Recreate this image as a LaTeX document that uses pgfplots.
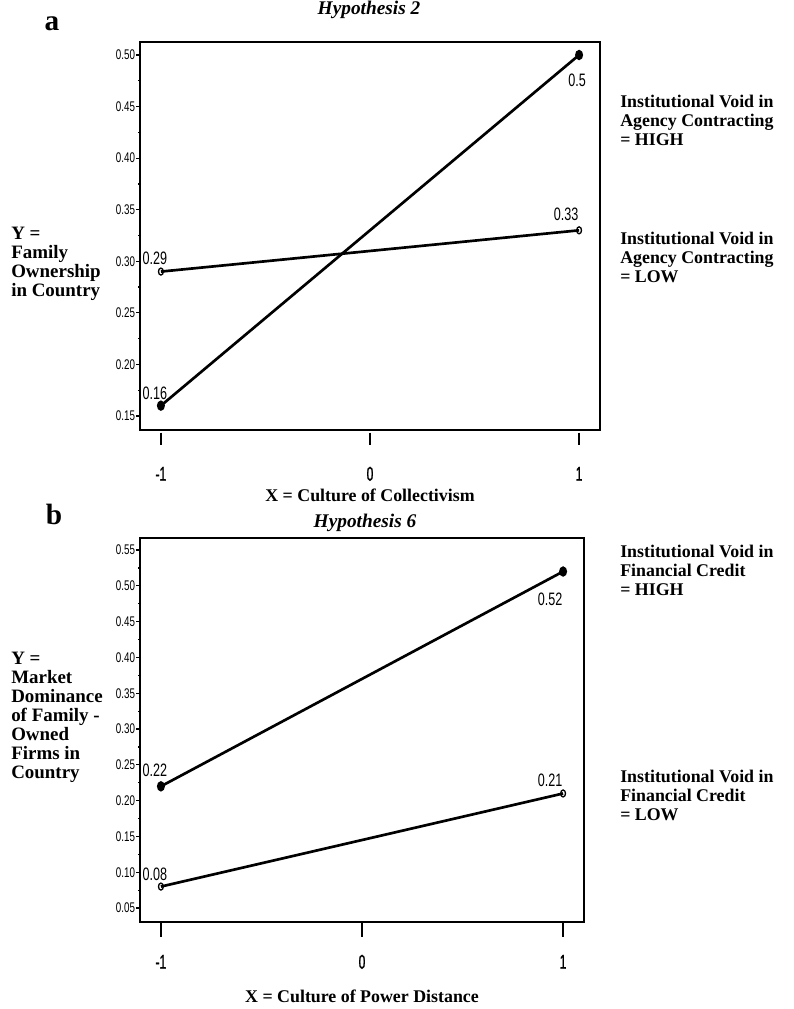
\documentclass[border=0pt]{standalone}
\usepackage{fontspec}
\setmainfont{Liberation Serif}
\newfontfamily\nsf[FakeStretch=0.7]{Liberation Sans}
\newfontfamily\xsf[FakeStretch=0.6,FakeBold=1.2]{Liberation Sans}
\usepackage{pgfplots}
\pgfplotsset{compat=1.18}

\pgfplotsset{
 mystyle/.style={
  scale only axis,
  axis line style={line width=1.1pt},
  tick align=outside,
  xtick pos=bottom, ytick pos=left,
  xtick={-1,0,1},
  xticklabels={-1,0,1},
  minor y tick num=1,
  tick style={line width=0.9pt,black},
  major tick length=3pt,
  minor tick length=1.5pt,
  xtick style={draw=none},
  yticklabel style={font=\nsf\fontsize{10.5}{10.5}\selectfont, inner sep=0.5pt, /pgf/number format/.cd, fixed, fixed zerofill, precision=2},
  xticklabel style={font=\xsf\fontsize{15}{15}\selectfont, text height=10.5pt, text depth=0pt},
  /pgf/number format/assume math mode=true,
  clip=false,
 },
 high/.style={black, line width=2pt, mark=*, mark size=2.8pt, mark options={xscale=0.7, fill=black}},
 low/.style={black, line width=2pt, mark=o, mark size=2.6pt, mark options={xscale=0.7, line width=1pt}},
}
\tikzset{dl/.style={font=\nsf\fontsize{13.5}{13.5}\selectfont, inner sep=0pt}}
\newcommand{\lbl}{\bfseries\fontsize{13.4}{14.25}\selectfont}
\newcommand{\lbll}{\bfseries\fontsize{14.2}{15}\selectfont}

\begin{document}
\begin{tikzpicture}
\useasboundingbox (0,0) rectangle (594.75pt,-756.75pt);

\begin{axis}[mystyle, at={(105pt,-322.5pt)}, anchor=south west,
  width=345pt, height=291pt,
  xmin=-1.1, xmax=1.1, ymin=0.1364, ymax=0.5126,
  xticklabel style={yshift=-21pt},
  ytick={0.15,0.20,0.25,0.30,0.35,0.40,0.45,0.50}]
\addplot[high] coordinates {(-1,0.16) (1,0.50)};
\addplot[low] coordinates {(-1,0.29) (1,0.33)};
\node[dl,anchor=south,xshift=-4.5pt,yshift=5.25pt] at (axis cs:-1,0.29) {0.29};
\node[dl,anchor=south,xshift=-4.5pt,yshift=4.5pt] at (axis cs:-1,0.16) {0.16};
\node[dl,anchor=north,xshift=-1.5pt,yshift=-14pt] at (axis cs:1,0.50) {0.5};
\node[dl,anchor=south,xshift=-9.75pt,yshift=6.75pt] at (axis cs:1,0.33) {0.33};
\draw[line width=0.9pt] ([yshift=-2pt]axis cs:-1,0.1364) -- ([yshift=-11pt]axis cs:-1,0.1364);
\draw[line width=0.9pt] ([yshift=-2pt]axis cs:0,0.1364) -- ([yshift=-11pt]axis cs:0,0.1364);
\draw[line width=0.9pt] ([yshift=-2pt]axis cs:1,0.1364) -- ([yshift=-11pt]axis cs:1,0.1364);
\end{axis}

\begin{axis}[mystyle, at={(105pt,-691.5pt)}, anchor=south west,
  width=333pt, height=288pt,
  xmin=-1.104, xmax=1.104, ymin=0.0305, ymax=0.5668,
  xticklabel style={yshift=-18pt},
  ytick={0.05,0.10,0.15,0.20,0.25,0.30,0.35,0.40,0.45,0.50,0.55}]
\addplot[high] coordinates {(-1,0.22) (1,0.52)};
\addplot[low] coordinates {(-1,0.08) (1,0.21)};
\node[dl,anchor=south,xshift=-4.5pt,yshift=6.75pt] at (axis cs:-1,0.22) {0.22};
\node[dl,anchor=south,xshift=-4.5pt,yshift=4.5pt] at (axis cs:-1,0.08) {0.08};
\node[dl,anchor=north,xshift=-9.75pt,yshift=-15.5pt] at (axis cs:1,0.52) {0.52};
\node[dl,anchor=south,xshift=-9.75pt,yshift=5.25pt] at (axis cs:1,0.21) {0.21};
\draw[line width=0.9pt] ([yshift=-1pt]axis cs:-1,0.0305) -- ([yshift=-11pt]axis cs:-1,0.0305);
\draw[line width=0.9pt] ([yshift=-1pt]axis cs:0,0.0305) -- ([yshift=-11pt]axis cs:0,0.0305);
\draw[line width=0.9pt] ([yshift=-1pt]axis cs:1,0.0305) -- ([yshift=-11pt]axis cs:1,0.0305);
\end{axis}

\begin{scope}[x=0.75pt,y=-0.75pt]
\node[anchor=base,font=\bfseries\fontsize{22}{22}\selectfont,inner sep=0pt] at (52,31) {a};
\node[anchor=base,font=\bfseries\fontsize{22}{22}\selectfont,inner sep=0pt] at (54,524) {b};
\node[anchor=base,font=\bfseries\itshape\fontsize{14.5}{14.5}\selectfont,inner sep=0pt] at (369,15) {Hypothesis 2};
\node[anchor=base,font=\bfseries\itshape\fontsize{14.5}{14.5}\selectfont,inner sep=0pt] at (365,527) {Hypothesis 6};
\node[anchor=base,font=\lbl,inner sep=0pt] at (370,501) {X = Culture of Collectivism};
\node[anchor=base,font=\lbl,inner sep=0pt] at (362,1002) {X = Culture of Power Distance};
% left labels
\foreach \t [count=\i from 0] in {Y =,Family,Ownership,in Country}
  \node[anchor=base west,font=\lbll,inner sep=0pt] at (11,{239+19*\i}) {\t};
\foreach \t [count=\i from 0] in {Y =,Market,Dominance,of Family -,Owned,Firms in,Country}
  \node[anchor=base west,font=\lbll,inner sep=0pt] at (11,{664+19*\i}) {\t};
% right labels
\foreach \t [count=\i from 0] in {Institutional Void in,Agency Contracting,= HIGH}
  \node[anchor=base west,font=\lbl,inner sep=0pt] at (620,{108+19*\i}) {\t};
\foreach \t [count=\i from 0] in {Institutional Void in,Agency Contracting,= LOW}
  \node[anchor=base west,font=\lbl,inner sep=0pt] at (620,{244+19*\i}) {\t};
\foreach \t [count=\i from 0] in {Institutional Void in,Financial Credit,= HIGH}
  \node[anchor=base west,font=\lbl,inner sep=0pt] at (620,{557+19*\i}) {\t};
\foreach \t [count=\i from 0] in {Institutional Void in,Financial Credit,= LOW}
  \node[anchor=base west,font=\lbl,inner sep=0pt] at (620,{782+19*\i}) {\t};
\end{scope}
\end{tikzpicture}
\end{document}
